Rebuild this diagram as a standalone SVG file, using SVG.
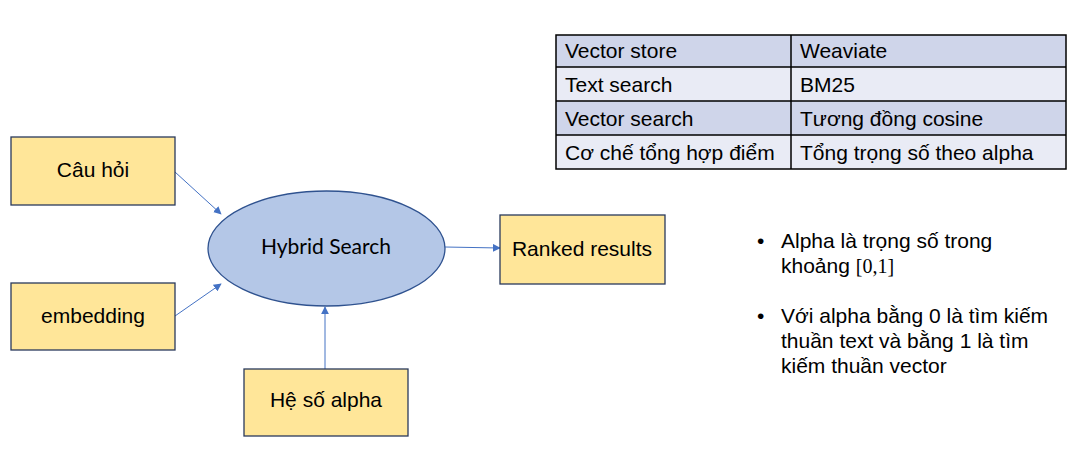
<svg xmlns="http://www.w3.org/2000/svg" width="1085" height="455" viewBox="0 0 1085 455">
<defs>
<marker id="arr" viewBox="0 0 10 10" refX="9" refY="5" markerWidth="8" markerHeight="8" markerUnits="userSpaceOnUse" orient="auto">
<path d="M0,0 L10,5 L0,10 z" fill="#4472C4"/>
</marker>
<style>
.box{fill:#FFE699;stroke:#2A3A5C;stroke-width:1.3}
.t{font-family:"Liberation Sans",Arial,sans-serif;font-size:21px;fill:#000}
.tt{font-family:"Liberation Sans",Arial,sans-serif;font-size:21px;fill:#000}
.conn{stroke:#4472C4;stroke-width:1;fill:none;marker-end:url(#arr)}
.r1{fill:#CFD5EA}
.r2{fill:#E9EBF5}
.grid{stroke:#000;stroke-width:1.5;fill:none}
</style>
</defs>
<rect width="1085" height="455" fill="#fff"/>

<g id="table">
<rect class="r1" x="556" y="35" width="510" height="32"/>
<rect class="r2" x="556" y="67" width="510" height="34"/>
<rect class="r1" x="556" y="101" width="510" height="34"/>
<rect class="r2" x="556" y="135" width="510" height="34"/>
<rect class="grid" x="556" y="35" width="510" height="134"/>
<path class="grid" d="M556,67 H1066 M556,101 H1066 M556,135 H1066 M791,35 V169"/>
<text class="tt" x="565" y="58">Vector store</text>
<text class="tt" x="800" y="58">Weaviate</text>
<text class="tt" x="565" y="92">Text search</text>
<text class="tt" x="800" y="92">BM25</text>
<text class="tt" x="565" y="126">Vector search</text>
<text class="tt" x="800" y="126">Tương đồng cosine</text>
<text class="tt" x="565" y="160">Cơ chế tổng hợp điểm</text>
<text class="tt" x="800" y="160">Tổng trọng số theo alpha</text>
</g>

<g id="connectors">
<line class="conn" x1="175" y1="172" x2="221" y2="214"/>
<line class="conn" x1="175" y1="316" x2="221" y2="284"/>
<line class="conn" x1="325" y1="369" x2="325" y2="307"/>
<line class="conn" x1="445" y1="247" x2="500" y2="248"/>
</g>

<g id="cau-hoi">
<rect class="box" x="11" y="137" width="164" height="68"/>
<text class="t" x="93" y="177" text-anchor="middle">Câu hỏi</text>
</g>

<g id="embedding">
<rect class="box" x="11" y="283" width="164" height="67"/>
<text class="t" x="93" y="323" text-anchor="middle">embedding</text>
</g>

<g id="he-so-alpha">
<rect class="box" x="244" y="369" width="164" height="67"/>
<text class="t" x="326" y="407" text-anchor="middle">Hệ số alpha</text>
</g>

<g id="hybrid-search">
<ellipse cx="326.5" cy="248.5" rx="118.5" ry="57.5" fill="#B4C7E7" stroke="#2F528F" stroke-width="1.3"/>
<text x="326" y="254" text-anchor="middle" font-family="Lato,'Open Sans',sans-serif" font-size="21" fill="#000">Hybrid Search</text>
</g>

<g id="ranked-results">
<rect class="box" x="500" y="215" width="165" height="69"/>
<text class="t" x="582" y="256" text-anchor="middle">Ranked results</text>
</g>

<g id="notes">
<text class="t" x="757" y="248">•</text>
<text class="t" x="781" y="248">Alpha là trọng số trong</text>
<text class="t" x="781" y="273">khoảng <tspan font-family="'Liberation Serif','DejaVu Serif',serif" font-size="20">[0,1]</tspan></text>
<text class="t" x="757" y="323">•</text>
<text class="t" x="781" y="323">Với alpha bằng 0 là tìm kiếm</text>
<text class="t" x="781" y="348">thuần text và bằng 1 là tìm</text>
<text class="t" x="781" y="373">kiếm thuần vector</text>
</g>
</svg>
